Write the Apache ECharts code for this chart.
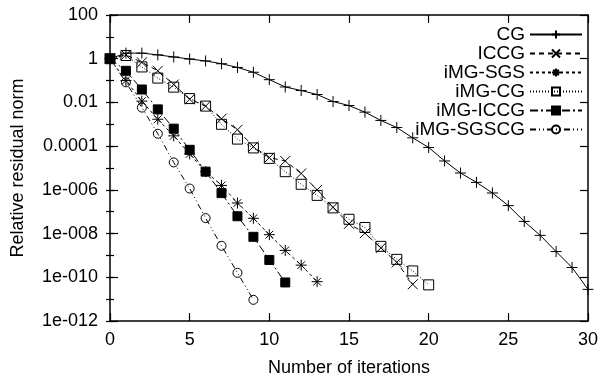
<!DOCTYPE html>
<html>
<head>
<meta charset="utf-8">
<script src="https://cdn.jsdelivr.net/npm/echarts@6/dist/echarts.min.js"></script>
<style>html,body{margin:0;padding:0;background:#fff;}#c{width:601px;height:382px;}</style>
</head>
<body>
<div id="c"></div>
<script>
// ---- data ----
const seriesNames = ['CG', 'ICCG', 'iMG-SGS', 'iMG-CG', 'iMG-ICCG', 'iMG-SGSCG'];

const cg = [1, 1.8, 1.8, 1.5, 1.2, 0.97, 0.79, 0.59, 0.40, 0.24, 0.11, 0.051, 0.035, 0.023, 0.011,
  0.0072, 0.0036, 0.0015, 7.1e-4, 2.4e-4, 8.7e-5, 2.1e-5, 5.9e-6, 2.2e-6, 7.2e-7, 1.9e-7,
  3.6e-8, 8.3e-9, 1.5e-9, 2.8e-10, 2.8e-11];
const iccg = [1, 1.5, 0.68, 0.28, 0.066, 0.014, 0.0068, 0.0018, 5.6e-4, 9.5e-5, 3.0e-5, 2.1e-5,
  5.6e-6, 1.0e-6, 1.6e-7, 2.8e-8, 1.05e-8, 2.2e-9, 4.8e-10, 4.8e-11];
const imgSgs = [1, 0.1, 0.0115, 0.0017, 2.95e-4, 4.4e-5, 6.8e-6, 1.6e-6, 2.5e-7, 5e-8, 8.9e-9,
  1.7e-9, 3.6e-10, 6.3e-11];
const imgCg = [1, 1.4, 0.42, 0.13, 0.05, 0.015, 0.0068, 0.001, 2.1e-4, 8.3e-5, 2.75e-5, 6.8e-6,
  1.8e-6, 5.6e-7, 1.5e-7, 4.5e-8, 1.9e-8, 2.6e-9, 6.6e-10, 1.95e-10, 4.5e-11];
const imgIccg = [1, 0.28, 0.039, 0.0048, 6.3e-4, 6.8e-5, 6.8e-6, 7.1e-7, 6.2e-8, 7.1e-9, 6.2e-10, 5.8e-11];
const imgSgscg = [1, 0.083, 0.0058, 3.7e-4, 1.8e-5, 1.15e-6, 5.1e-8, 2.75e-9, 1.6e-10, 9.3e-12];

const xTicks = [0, 5, 10, 15, 20, 25, 30];
const yTickValues = [100, 1, 0.01, 0.0001, 1e-6, 1e-8, 1e-10, 1e-12];
const yTickLabels = ['100', '1', '0.01', '0.0001', '1e-006', '1e-008', '1e-010', '1e-012'];

// ---- chart ----
const FONT = 'Liberation Sans';
const FS = 18;
const seriesData = [cg, iccg, imgSgs, imgCg, imgIccg, imgSgscg];

const symPlus = 'path://M5,0L5,10M0,5L10,5';
const symCross = 'path://M0,0L10,10M10,0L0,10';
const symStar = 'path://M5,0L5,10M0,5L10,5M1.5,1.5L8.5,8.5M8.5,1.5L1.5,8.5';

const styles = [
  { symbol: symPlus, size: 11, fill: 'none', dash: 'solid' },
  { symbol: symCross, size: 10, fill: 'none', dash: [5, 4] },
  { symbol: symStar, size: 11, fill: 'none', dash: [3, 3] },
  { symbol: 'rect', size: 10, fill: 'rgba(0,0,0,0)', dash: [1, 2] },
  { symbol: 'rect', size: 9, fill: '#000', dash: [8, 3, 2, 3] },
  { symbol: 'circle', size: 9, fill: 'rgba(0,0,0,0)', dash: [6, 3, 1, 3, 1, 3] }
];

function yLabel(v) {
  for (let i = 0; i < yTickValues.length; i++) {
    if (Math.abs(Math.log10(v) - Math.log10(yTickValues[i])) < 1e-6) return yTickLabels[i];
  }
  return '';
}

const yMin = 1e-12, yMax = 100;

const baseY = {
  type: 'log', logBase: 10, min: yMin, max: yMax,
  splitLine: { show: false }
};

const option = {
  animation: false,
  backgroundColor: '#fff',
  textStyle: { fontFamily: FONT },
  grid: { left: 110, right: 11, top: 15, bottom: 59, containLabel: false },
  legend: {
    right: 13, top: 20, orient: 'vertical', align: 'right',
    itemWidth: 52, itemHeight: 10, itemGap: 0,
    textStyle: { fontFamily: FONT, fontSize: 19, color: '#000', lineHeight: 19 },
    data: seriesNames
  },
  xAxis: [
    {
      type: 'value', min: 0, max: 30, interval: 5,
      name: 'Number of iterations', nameLocation: 'middle', nameGap: 38,
      nameTextStyle: { fontFamily: FONT, fontSize: FS, color: '#000' },
      axisLine: { show: true, onZero: false, lineStyle: { color: '#000', width: 1.5 } },
      axisTick: { show: true, inside: true, length: 8, lineStyle: { color: '#000', width: 1.2 } },
      axisLabel: { fontFamily: FONT, fontSize: FS, color: '#000', margin: 10,
        formatter: v => (xTicks.indexOf(v) >= 0 ? String(v) : '') },
      splitLine: { show: false }
    },
    {
      type: 'value', min: 0, max: 30, interval: 5, position: 'top',
      axisLine: { show: true, onZero: false, lineStyle: { color: '#000', width: 1.5 } },
      axisTick: { show: true, inside: true, length: 8, lineStyle: { color: '#000', width: 1.2 } },
      axisLabel: { show: false }, splitLine: { show: false }
    }
  ],
  yAxis: [
    Object.assign({}, baseY, {
      interval: 2, position: 'left',
      name: 'Relative residual norm', nameLocation: 'middle', nameGap: 83, nameRotate: 90,
      nameTextStyle: { fontFamily: FONT, fontSize: FS, color: '#000' },
      axisLine: { show: true, onZero: false, lineStyle: { color: '#000', width: 1.5 } },
      axisTick: { show: true, inside: true, length: 8, lineStyle: { color: '#000', width: 1.2 } },
      axisLabel: { fontFamily: FONT, fontSize: FS, color: '#000', margin: 12, formatter: yLabel }
    }),
    Object.assign({}, baseY, {
      interval: 1, position: 'left',
      axisLine: { show: false },
      axisTick: { show: true, inside: true, length: 4, lineStyle: { color: '#000', width: 1.2 } },
      axisLabel: { show: false }
    }),
    Object.assign({}, baseY, {
      interval: 2, position: 'right',
      axisLine: { show: true, onZero: false, lineStyle: { color: '#000', width: 1.5 } },
      axisTick: { show: true, inside: true, length: 8, lineStyle: { color: '#000', width: 1.2 } },
      axisLabel: { show: false }
    }),
    Object.assign({}, baseY, {
      interval: 1, position: 'right',
      axisLine: { show: false },
      axisTick: { show: true, inside: true, length: 4, lineStyle: { color: '#000', width: 1.2 } },
      axisLabel: { show: false }
    })
  ],
  series: seriesNames.map((name, i) => ({
    name: name,
    type: 'line',
    xAxisIndex: 0, yAxisIndex: 0,
    data: seriesData[i].map((v, k) => [k, v]),
    symbol: styles[i].symbol,
    symbolSize: styles[i].size,
    showSymbol: true,
    showAllSymbol: true,
    lineStyle: { color: '#000', width: 1, type: styles[i].dash },
    itemStyle: { color: styles[i].fill, borderColor: '#000', borderWidth: 1 },
    emphasis: { disabled: true },
    z: 2
  }))
};

const chart = echarts.init(document.getElementById('c'), null, { renderer: 'canvas' });
chart.setOption(option);
</script>
</body>
</html>
